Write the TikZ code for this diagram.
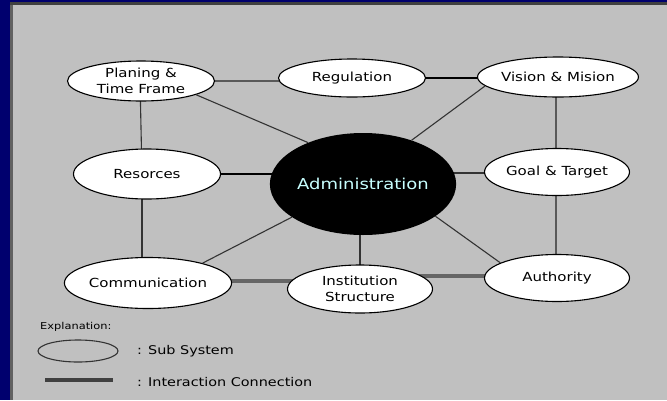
\documentclass[tikz,border=0pt]{standalone}
\usepackage{fontspec}
\newfontfamily\pxf[FakeStretch=1.2]{DejaVu Sans}
\usetikzlibrary{shapes.geometric,calc}
\pgfdeclarelayer{back}
\pgfdeclarelayer{edges}
\pgfsetlayers{back,edges,main}
\definecolor{navy}{HTML}{00006E}
\definecolor{panel}{HTML}{C0C0C0}
\tikzset{
  sub/.style={ellipse, draw=black, line width=1.1pt, fill=white, inner sep=0pt,
    align=center, font=\pxf\fontsize{12.5}{16}\selectfont},
  thin/.style={draw=black!80, line width=1.1pt},
  mid/.style={draw=black, line width=1.8pt},
  grayl/.style={draw=black!65, line width=2.2pt},
  heavy/.style={draw=black!60, line width=3.4pt},
  legtxt/.style={anchor=west, inner sep=0pt, font=\pxf\fontsize{12}{14}\selectfont},
}
\begin{document}
\begin{tikzpicture}[x=1pt,y=-1pt]
\useasboundingbox (0,0) rectangle (667,400);
\begin{pgfonlayer}{back}
  \fill[navy] (0,0) rectangle (667,400);
  \fill[black!75] (10,2) rectangle (667,400);
  \fill[black!62] (10,5) rectangle (13,400);
  \fill[panel] (13,5) rectangle (667,400);
\end{pgfonlayer}

\node[sub, minimum width=147pt, minimum height=40pt] (plan) at (141,81) {Planing \&\\Time Frame};
\node[sub, minimum width=147pt, minimum height=38pt] (reg) at (352,78) {Regulation};
\node[sub, minimum width=145pt, minimum height=40pt] (vis) at (558,77) {Vision \& Mision};
\node[sub, minimum width=147pt, minimum height=50pt] (res) at (147,174) {Resorces};
\node[ellipse, fill=black, inner sep=0pt, minimum width=167pt, minimum height=102pt,
  text={rgb,255:red,200;green,255;blue,255}, font=\pxf\fontsize{15}{18}\selectfont] (adm) at (363,184) {Administration};
\node[sub, minimum width=145pt, minimum height=47pt] (goal) at (557,172) {Goal \& Target};
\node[sub, minimum width=145pt, minimum height=51pt] (com) at (148,283) {Communication};
\node[sub, minimum width=145pt, minimum height=48pt] (inst) at (360,289) {Institution\\Structure};
\node[sub, minimum width=145pt, minimum height=47pt] (aut) at (557,278) {Authority};

\begin{pgfonlayer}{edges}
  \draw[grayl] (plan.center) -- (plan.center -| reg.center);
  \draw[mid] (reg.center) -- (reg.center -| vis.center);
  \draw[grayl] ([xshift=-2pt]vis.center) -- ([xshift=-2pt]vis.center |- goal.center);
  \draw[grayl] ([xshift=-1pt]goal.center) -- ([xshift=-1pt]goal.center |- aut.center);
  \draw[thin] ([xshift=-1pt]plan.center) -- ([xshift=-5pt]res.center);
  \draw[thin] ([xshift=-5pt]res.center) -- ([xshift=-6pt]com.center);
  \draw[mid] (res.center) -- (res.center -| adm.center);
  \draw[thin] ([yshift=-1pt]goal.center) -- ([yshift=-1pt]goal.center -| adm.center);
  \draw[thin] (inst.center) -- (inst.center |- adm.center);
  \draw[heavy] ([yshift=2pt]com.center) -- ([yshift=2pt]com.center -| inst.center);
  \draw[heavy] ([yshift=2pt]aut.center) -- ([yshift=2pt]aut.center -| inst.center);
\end{pgfonlayer}
\draw[thin] (plan.-14) -- (adm.143);
\draw[thin] (vis.187) -- (adm.42);
\draw[thin] (com.20) -- (adm.205);
\draw[thin] (adm.-24) -- (aut.165);

% legend
\node[legtxt, font=\pxf\fontsize{9.5}{11}\selectfont] (expl) at (40,327) {Explanation:};
\node[ellipse, draw=black!80, line width=1.1pt, minimum width=80pt, minimum height=22pt, inner sep=0pt] (legell) at (78,351) {};
\node[legtxt] (legsub) at (137,351) {: Sub System};
\coordinate (la) at (45,380);
\coordinate (lb) at (113,380);
\draw[draw=black!75, line width=3.4pt] (la) -- (lb);
\node[legtxt] (legcon) at (137,382) {: Interaction Connection};
\end{tikzpicture}
\end{document}
